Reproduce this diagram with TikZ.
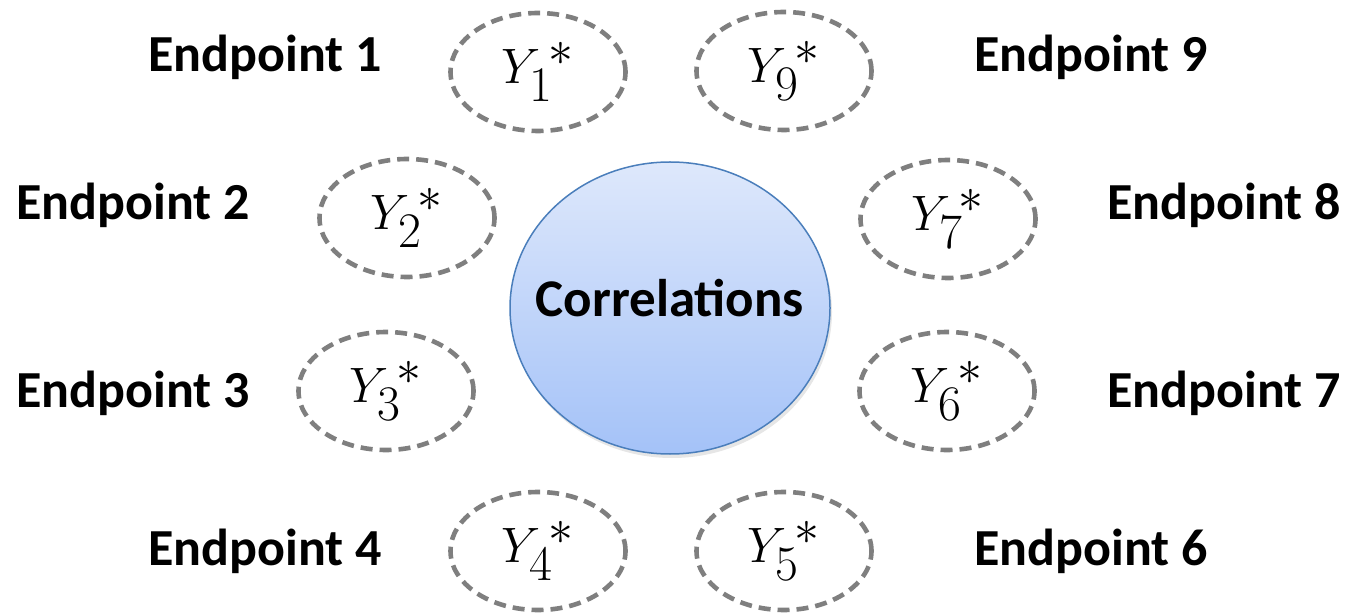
\documentclass[tikz,border=0pt]{standalone}
\usepackage{fontspec}
\setmainfont{Carlito}
\usetikzlibrary{shapes.geometric,shadows}
\definecolor{dashgray}{HTML}{7F7F7F}
\definecolor{corrtop}{HTML}{DEE8FB}
\definecolor{corrbottom}{HTML}{A4C2F8}
\definecolor{corrline}{HTML}{4A7EBB}

\begin{document}
\begin{tikzpicture}[x=0.5pt, y=-0.5pt,
    ystar/.style={ellipse, draw=dashgray, line width=2.3pt, dash pattern=on 6pt off 3.5pt,
        minimum width=87.5pt, minimum height=59pt, inner sep=0pt,
        font=\fontsize{40}{46}\selectfont},
    endlabel/.style={anchor=base, font=\fontsize{26}{31}\selectfont\bfseries}]
    \useasboundingbox (0,0) rectangle (1348,614);

    \node[ellipse, draw=corrline, line width=0.75pt, minimum width=160pt, minimum height=146pt,
        inner sep=0pt, top color=corrtop, bottom color=corrbottom,
        drop shadow={opacity=0.2, shadow xshift=1pt, shadow yshift=-2pt}] (corr) at (670,308) {};
    \node[anchor=base, font=\fontsize{26.5}{31}\selectfont\bfseries] (corrtext) at (670,317) {Correlations};

    \node[ystar] (y1) at (538,72)  {$Y_1^{\,*}$};
    \node[ystar] (y9) at (784,71)  {$Y_9^{\,*}$};
    \node[ystar] (y2) at (407,218) {$Y_2^{\,*}$};
    \node[ystar] (y7) at (948,219) {$Y_7^{\,*}$};
    \node[ystar] (y3) at (386,391) {$Y_3^{\,*}$};
    \node[ystar] (y6) at (947,391) {$Y_6^{\,*}$};
    \node[ystar] (y4) at (538,551) {$Y_4^{\,*}$};
    \node[ystar] (y5) at (784,551) {$Y_5^{\,*}$};

    \node[endlabel] (ep1) at (265,72)  {Endpoint 1};
    \node[endlabel] (ep2) at (133,220) {Endpoint 2};
    \node[endlabel] (ep3) at (133,408) {Endpoint 3};
    \node[endlabel] (ep4) at (265,565) {Endpoint 4};
    \node[endlabel] (ep9) at (1091,72)  {Endpoint 9};
    \node[endlabel] (ep8) at (1224,220) {Endpoint 8};
    \node[endlabel] (ep7) at (1224,408) {Endpoint 7};
    \node[endlabel] (ep6) at (1091,565) {Endpoint 6};
\end{tikzpicture}
\end{document}
